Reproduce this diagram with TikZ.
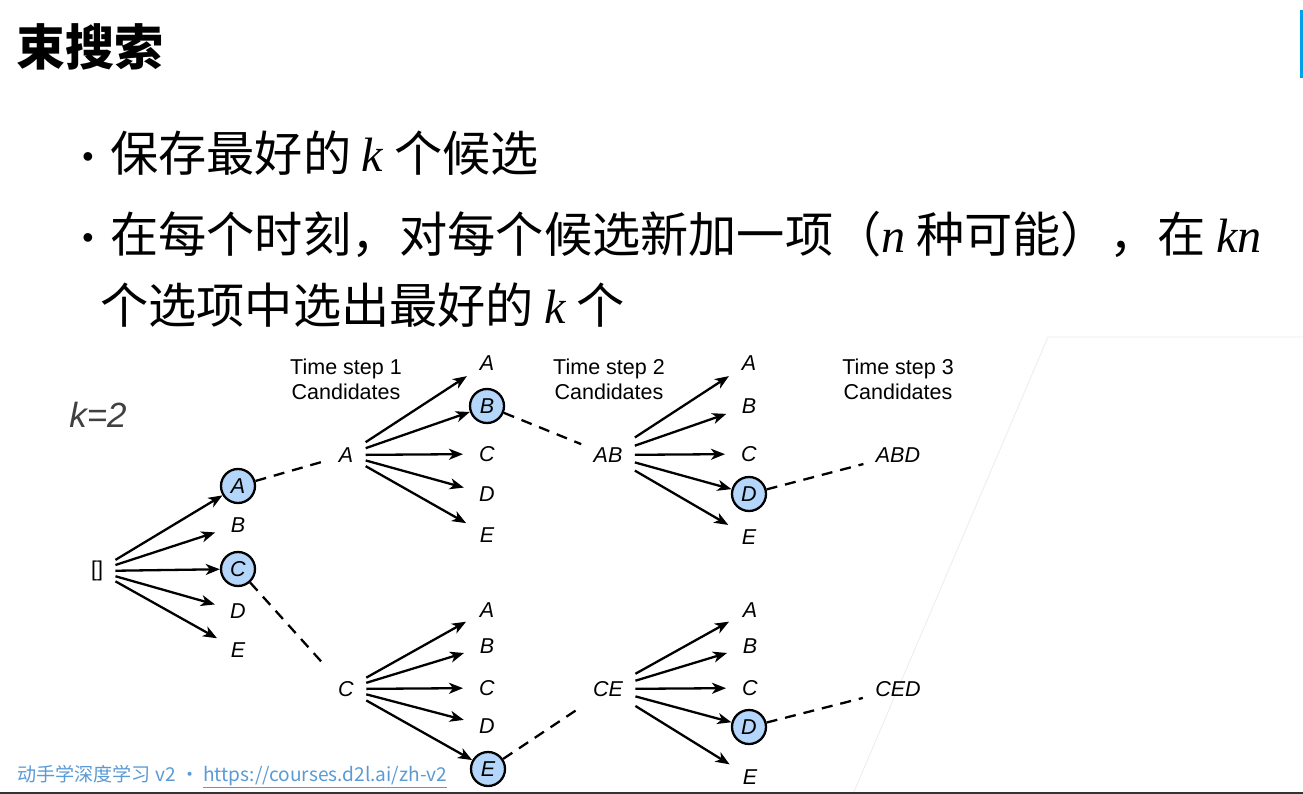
\documentclass[tikz,border=0pt]{standalone}
\usepackage{fontspec}
\setmainfont{Liberation Sans}
\newfontfamily\cjk{Noto Sans CJK SC}
\newfontfamily\tms{Liberation Serif}
\usetikzlibrary{arrows.meta}
\definecolor{selfill}{RGB}{180,214,250}
\definecolor{linkblue}{RGB}{91,155,213}
\definecolor{barblue}{RGB}{0,160,233}
\definecolor{kgray}{RGB}{64,64,64}
\newcommand{\mv}[1]{{\tms\itshape #1}}
\begin{document}
\begin{tikzpicture}[x=1pt,y=-1pt,
  lbl/.style={font=\fontsize{21.5}{25}\selectfont\itshape, circle, minimum size=34pt, inner sep=0pt, outer sep=7pt},
  sel/.style={lbl, draw, line width=2.3pt, fill=selfill, minimum size=34pt, outer sep=1.2pt},
  par/.style={font=\fontsize{21.5}{25}\selectfont\itshape, rectangle, inner xsep=12.5pt, inner ysep=0pt, minimum height=48pt, outer sep=0pt},
  hdr/.style={font=\fontsize{21.5}{25}\selectfont, align=center},
  fan/.style={-{Stealth[length=14pt,width=11pt,inset=4pt]}, line width=2.3pt},
  keep/.style={dash pattern=on 11pt off 8pt, line width=2.3pt},
  bodytext/.style={font=\cjk\fontsize{48.2}{56}\selectfont, anchor=base west, inner sep=0pt}
]
\useasboundingbox (0,0) rectangle (1303,794);
\fill[white] (0,0) rectangle (1303,794);

% page decorations
\fill[barblue] (1300,10) rectangle (1303,78);
\draw[black!7, line width=0.8pt] (1303,337) -- (1048,337) -- (853,794);
\fill[black!80] (0,791.5) rectangle (1303,794);

% title and bullet points
\node[font=\cjk\bfseries\fontsize{49}{58}\selectfont, anchor=base west, inner sep=0pt] (title) at (16,66) {束搜索};
\node[font=\fontsize{32}{36}\selectfont, anchor=base, inner sep=0pt] (bul1) at (88,168) {•};
\node[bodytext] (line1) at (110,172) {保存最好的 \mv{k} 个候选};
\node[font=\fontsize{32}{36}\selectfont, anchor=base, inner sep=0pt] (bul2) at (88,249) {•};
\node[bodytext] (line2) at (110,253) {在每个时刻，对每个候选新加一项（\mv{n} 种可能），在 \mv{kn}};
\node[bodytext] (line3) at (100,323) {个选项中选出最好的 \mv{k} 个};

% footer
\node[font=\cjk\fontsize{19.1}{22}\selectfont, text=linkblue, anchor=base west, inner sep=0pt] (foot) at (17,781) {动手学深度学习 v2 • \underline{https://courses.d2l.ai/zh-v2}};

% beam width
\node[font=\fontsize{35}{40}\selectfont\itshape, text=kgray] (kval) at (98,415) {k=2};

% column headers
\node[hdr] (h1) at (346,379.5) {Time step 1\\Candidates};
\node[hdr] (h2) at (609,379.5) {Time step 2\\Candidates};
\node[hdr] (h3) at (898,379.5) {Time step 3\\Candidates};

% step 1
\node[par, font=\fontsize{21.5}{25}\selectfont] (root) at (97,571) {[]};
\node[sel] (a1) at (238,486) {A};
\node[lbl] (b1) at (238,525) {B};
\node[sel] (c1) at (238,569) {C};
\node[lbl] (d1) at (238,611) {D};
\node[lbl] (e1) at (238,650) {E};
\foreach \t in {a1,b1,c1,d1,e1} \draw[fan] (root) -- (\t);

% step 2, upper beam
\node[par] (pA) at (346,455) {A};
\node[lbl] (uA) at (487,363) {A};
\node[sel] (uB) at (487,406) {B};
\node[lbl] (uC) at (487,454) {C};
\node[lbl] (uD) at (487,494) {D};
\node[lbl] (uE) at (487,535) {E};
\foreach \t in {uA,uB,uC,uD,uE} \draw[fan] (pA) -- (\t);
\draw[keep] (a1) -- (pA);

% step 2, lower beam
\node[par] (pC) at (346,689) {C};
\node[lbl] (lA) at (487,610) {A};
\node[lbl] (lB) at (487,646) {B};
\node[lbl] (lC) at (487,688) {C};
\node[lbl] (lD) at (487,726) {D};
\node[sel] (lE) at (488,769) {E};
\foreach \t in {lA,lB,lC,lD,lE} \draw[fan] (pC) -- (\t);
\draw[keep] (c1) -- (pC);

% step 3, upper beam
\node[par] (pAB) at (608,455) {AB};
\node[lbl] (vA) at (749,363) {A};
\node[lbl] (vB) at (749,406) {B};
\node[lbl] (vC) at (749,454) {C};
\node[sel] (vD) at (749,494) {D};
\node[lbl] (vE) at (749,537) {E};
\foreach \t in {vA,vB,vC,vD,vE} \draw[fan] (pAB) -- (\t);
\draw[keep] (uB) -- (pAB);
\node[par] (pABD) at (898,455) {ABD};
\draw[keep] (vD) -- (pABD);

% step 3, lower beam
\node[par] (pCE) at (608,689) {CE};
\node[lbl] (wA) at (750,610) {A};
\node[lbl] (wB) at (750,646) {B};
\node[lbl] (wC) at (750,688) {C};
\node[sel] (wD) at (749,727) {D};
\node[lbl] (wE) at (750,777) {E};
\foreach \t in {wA,wB,wC,wD,wE} \draw[fan] (pCE) -- (\t);
\draw[keep] (lE) -- (pCE);
\node[par] (pCED) at (898,689) {CED};
\draw[keep] (wD) -- (pCED);
\end{tikzpicture}
\end{document}
